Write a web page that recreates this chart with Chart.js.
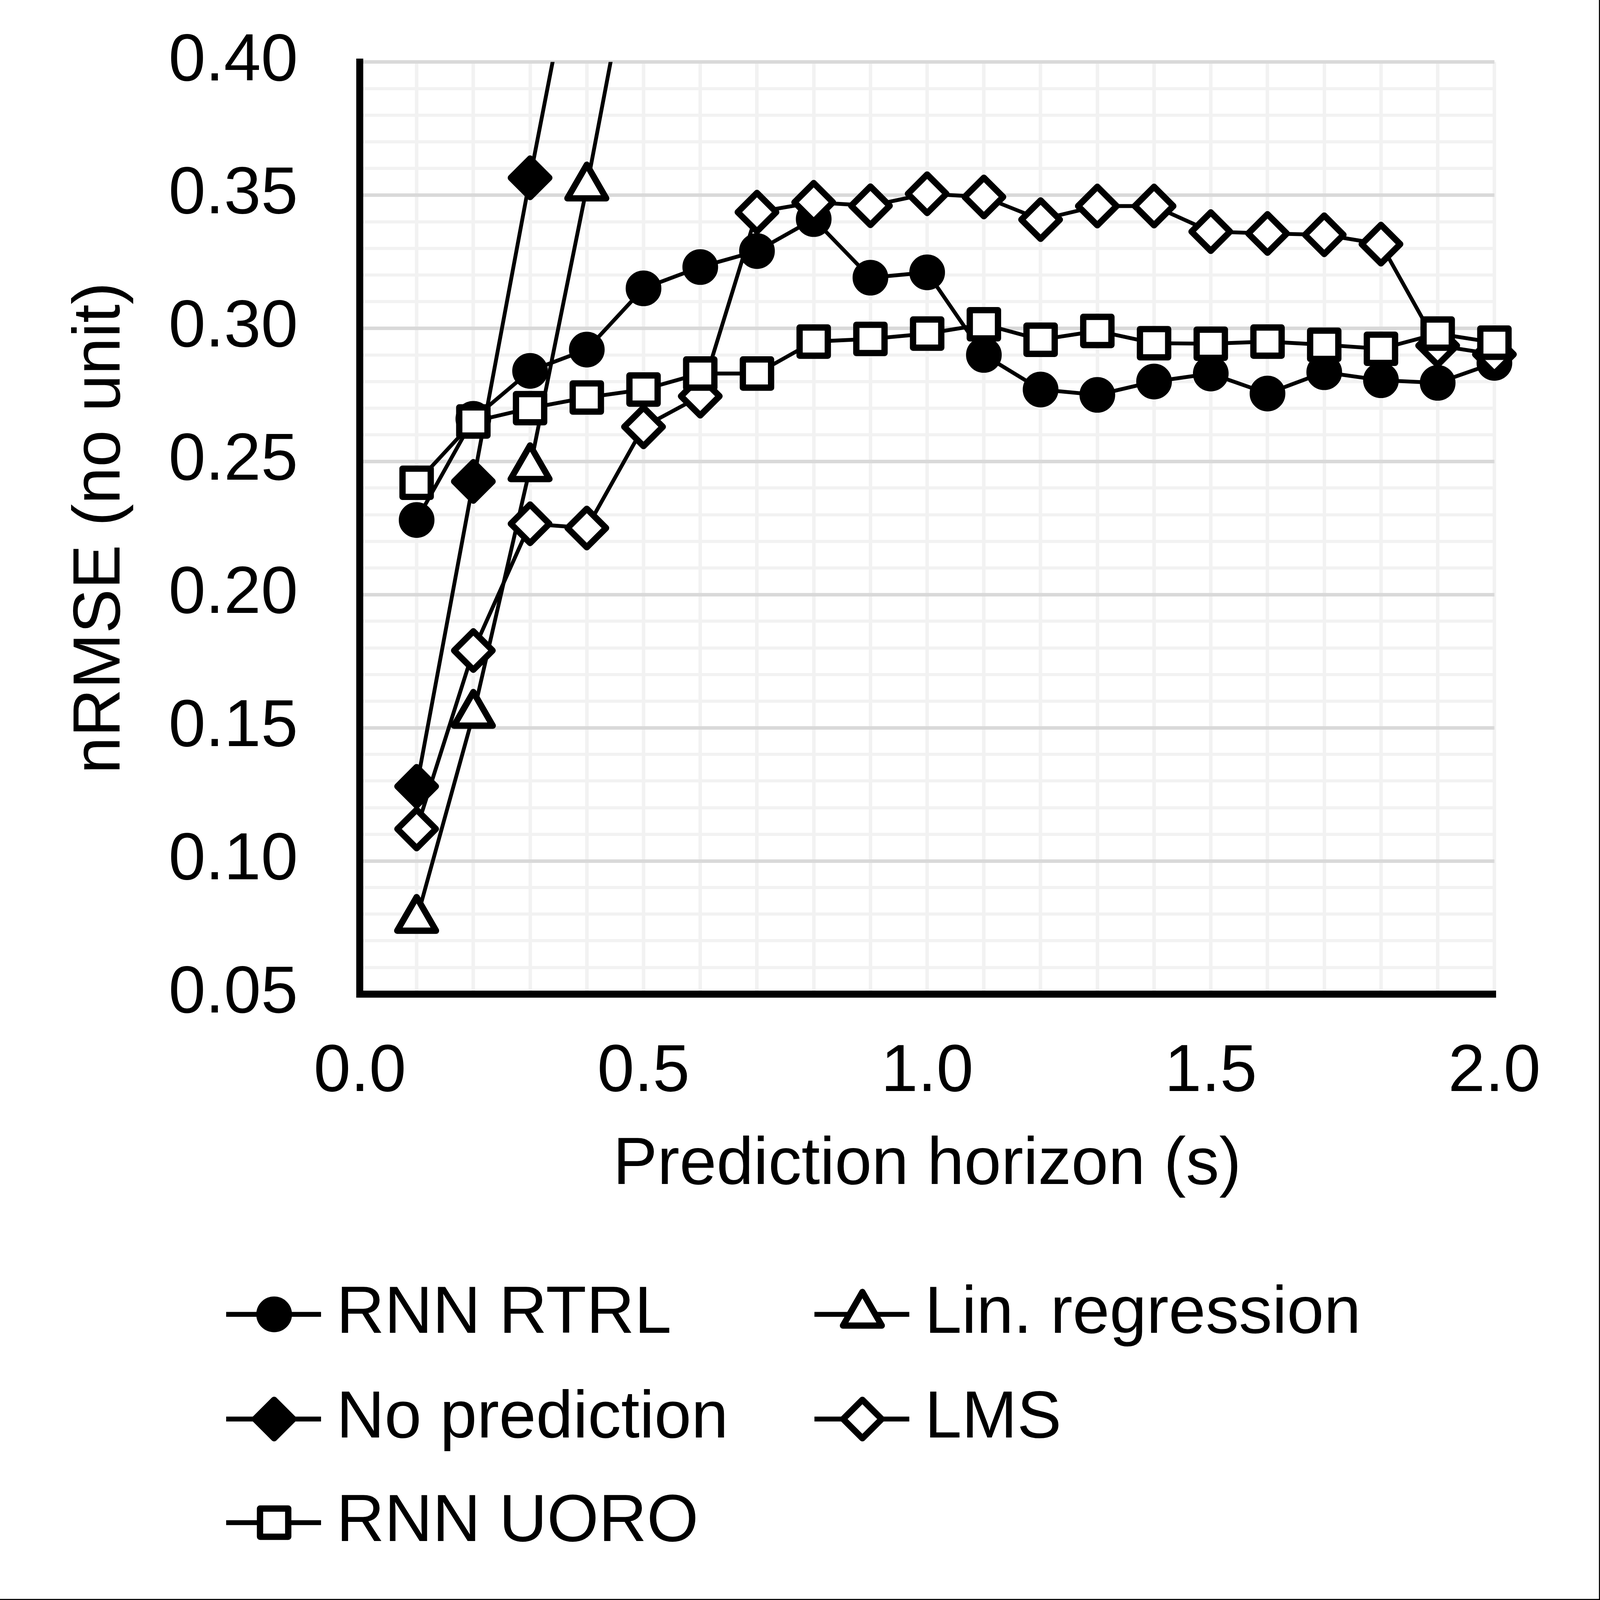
<!DOCTYPE html>
<html>
<head>
<meta charset="utf-8">
<script src="https://cdn.jsdelivr.net/npm/chart.js@4.4.1/dist/chart.umd.min.js"></script>
<style>
html, body { margin: 0; padding: 0; background: #fff; overflow: hidden; }
#wrap { position: fixed; left: 0; top: 0; width: 100vw; height: 100vh; }
canvas { display: block; }
</style>
</head>
<body>
<div id="wrap"><canvas id="myChart"></canvas></div>
<script>
// prediction horizon (s)
var horizon = [0.1, 0.2, 0.3, 0.4, 0.5, 0.6, 0.7, 0.8, 0.9, 1.0,
               1.1, 1.2, 1.3, 1.4, 1.5, 1.6, 1.7, 1.8, 1.9, 2.0]

// nRMSE per method (null = above the plotted range)
var rnnRtrl = [0.228, 0.266, 0.284, 0.292, 0.315, 0.323, 0.329, 0.341, 0.319, 0.321,
               0.290, 0.277, 0.275, 0.280, 0.283, 0.2755, 0.2835, 0.2805, 0.2795, 0.287]
var linRegression = [0.078, 0.155, 0.2476, 0.353, 0.465, null, null, null, null, null,
                     null, null, null, null, null, null, null, null, null, null]
var noPrediction = [0.128, 0.2425, 0.3565, 0.466, null, null, null, null, null, null,
                    null, null, null, null, null, null, null, null, null, null]
var lms = [0.112, 0.179, 0.2266, 0.225, 0.263, 0.2745, 0.3436, 0.3473, 0.346, 0.3505,
           0.3493, 0.3408, 0.3459, 0.3459, 0.3363, 0.3356, 0.3351, 0.3316, 0.2935, 0.2902]
var rnnUoro = [0.242, 0.265, 0.270, 0.274, 0.277, 0.283, 0.283, 0.295, 0.296, 0.298,
               0.3015, 0.2957, 0.299, 0.2944, 0.2942, 0.295, 0.2938, 0.2923, 0.298, 0.2946]

var xTickLabels = ['0.0', '0.5', '1.0', '1.5', '2.0']
var yTickLabels = ['0.05', '0.10', '0.15', '0.20', '0.25', '0.30', '0.35', '0.40']

var FONT = "'Liberation Sans', Arial, sans-serif"

// layout is worked out for a 4379 x 4571 page, scaled to whatever the window is
var kx = window.innerWidth / 4379
var ky = window.innerHeight / 4571
var k = Math.min(kx, ky)
function s(v) { return v * k }

function toPoints(values) {
    return horizon.map(function(x, i) { return { x: x, y: values[i] } })
}

function pickLabel(labels, value) {
    for (var i = 0; i < labels.length; i++) {
        if (Math.abs(parseFloat(labels[i]) - value) < 1e-6) return labels[i]
    }
    return ''
}

function series(label, values, style, radius, fill, order) {
    return {
        label: label,
        data: toPoints(values),
        borderColor: '#000',
        borderWidth: s(11),
        borderJoinStyle: 'round',
        tension: 0,
        pointStyle: style,
        pointRadius: s(radius),
        pointBorderWidth: s(18),
        pointBorderColor: '#000',
        pointBackgroundColor: fill,
        order: order,
        clip: { left: s(300), right: s(300), top: 0, bottom: s(300) }
    }
}

// white page, thin frame on the right and bottom edges, rounded marker corners
var pagePlugin = {
    id: 'page',
    beforeDraw: function(chart) {
        var ctx = chart.ctx
        ctx.save()
        ctx.fillStyle = '#fff'
        ctx.fillRect(0, 0, chart.width, chart.height)
        ctx.restore()
    },
    beforeDatasetsDraw: function(chart) {
        chart.ctx.save()
        chart.ctx.lineJoin = 'round'
    },
    afterDatasetsDraw: function(chart) {
        chart.ctx.restore()
    },
    afterDraw: function(chart) {
        var ctx = chart.ctx
        var w = Math.max(s(3), 1)
        ctx.save()
        ctx.strokeStyle = '#000'
        ctx.lineWidth = w
        ctx.beginPath()
        ctx.moveTo(chart.width - w / 2, 0)
        ctx.lineTo(chart.width - w / 2, chart.height - w / 2)
        ctx.lineTo(0, chart.height - w / 2)
        ctx.stroke()
        ctx.restore()
    }
}

// excel style legend: line through marker, two columns
var legendPlugin = {
    id: 'lineLegend',
    afterDraw: function(chart) {
        var ctx = chart.ctx
        var cols = [619, 2229]
        var rows = [3755, 4054, 4350]
        chart.data.datasets.forEach(function(ds, i) {
            var x0 = cols[i % 2] * kx
            var y0 = rows[Math.floor(i / 2)] * ky
            ctx.save()
            ctx.lineJoin = 'round'
            ctx.strokeStyle = '#000'
            ctx.lineWidth = s(14)
            ctx.beginPath()
            ctx.moveTo(x0, y0)
            ctx.lineTo(x0 + s(271), y0)
            ctx.stroke()

            ctx.fillStyle = ds.pointBackgroundColor
            ctx.strokeStyle = '#000'
            ctx.lineWidth = ds.pointBorderWidth
            Chart.helpers.drawPoint(ctx, {
                pointStyle: ds.pointStyle,
                radius: ds.pointRadius,
                borderWidth: ds.pointBorderWidth,
                rotation: 0
            }, x0 + s(137), y0)

            ctx.fillStyle = '#000'
            ctx.font = s(190) + 'px ' + FONT
            ctx.textAlign = 'left'
            ctx.textBaseline = 'middle'
            ctx.fillText(ds.label, x0 + s(315), y0)
            ctx.restore()
        })
    }
}

var myChart = document.getElementById('myChart').getContext('2d')

var chart = new Chart(myChart, {
    type: 'line',
    data: {
        datasets: [
            series('RNN RTRL', rnnRtrl, 'circle', 42, '#000', 5),
            series('Lin. regression', linRegression, 'triangle', 64, '#fff', 4),
            series('No prediction', noPrediction, 'rectRot', 55, '#000', 3),
            series('LMS', lms, 'rectRot', 55, '#fff', 2),
            series('RNN UORO', rnnUoro, 'rect', 57, '#fff', 1)
        ]
    },
    options: {
        responsive: true,
        maintainAspectRatio: false,
        animation: false,
        events: [],
        layout: { padding: { top: 177 * ky, right: 289 * kx, bottom: 1127 * ky, left: 0 } },
        plugins: {
            legend: { display: false },
            tooltip: { enabled: false }
        },
        scales: {
            x: {
                type: 'linear',
                min: 0,
                max: 2,
                afterFit: function(scale) {
                    scale.height = 604 * ky
                    scale.paddingTop = 0
                    scale.paddingBottom = 0
                },
                border: { display: true, color: '#000', width: s(20) },
                grid: { drawTicks: false, color: '#f2f2f2', lineWidth: s(10) },
                ticks: {
                    stepSize: 0.1,
                    maxTicksLimit: 100,
                    autoSkip: false,
                    maxRotation: 0,
                    padding: s(111),
                    color: '#000',
                    font: { family: FONT, size: s(190) },
                    callback: function(value) { return pickLabel(xTickLabels, value) }
                },
                title: {
                    display: true,
                    text: 'Prediction horizon (s)',
                    color: '#000',
                    font: { family: FONT, size: s(190) },
                    padding: { top: s(42), bottom: 0 }
                }
            },
            y: {
                type: 'linear',
                min: 0.05,
                max: 0.40,
                afterFit: function(scale) {
                    scale.width = 985 * kx
                    scale.paddingTop = 0
                    scale.paddingBottom = 0
                },
                border: { display: true, color: '#000', width: s(20) },
                grid: {
                    drawTicks: false,
                    color: function(c) {
                        var v = c.tick ? Math.round(c.tick.value * 100) : 1
                        return v % 5 === 0 ? '#d9d9d9' : '#f2f2f2'
                    },
                    lineWidth: function(c) {
                        var v = c.tick ? Math.round(c.tick.value * 100) : 1
                        return v % 5 === 0 ? s(10) : s(9)
                    }
                },
                ticks: {
                    stepSize: 0.01,
                    maxTicksLimit: 100,
                    autoSkip: false,
                    padding: s(177),
                    color: '#000',
                    font: { family: FONT, size: s(190) },
                    callback: function(value) { return pickLabel(yTickLabels, value) }
                },
                title: {
                    display: true,
                    text: 'nRMSE (no unit)',
                    color: '#000',
                    font: { family: FONT, size: s(190) },
                    padding: { top: s(175), bottom: 0 }
                }
            }
        }
    },
    plugins: [pagePlugin, legendPlugin]
})
</script>
</body>
</html>
